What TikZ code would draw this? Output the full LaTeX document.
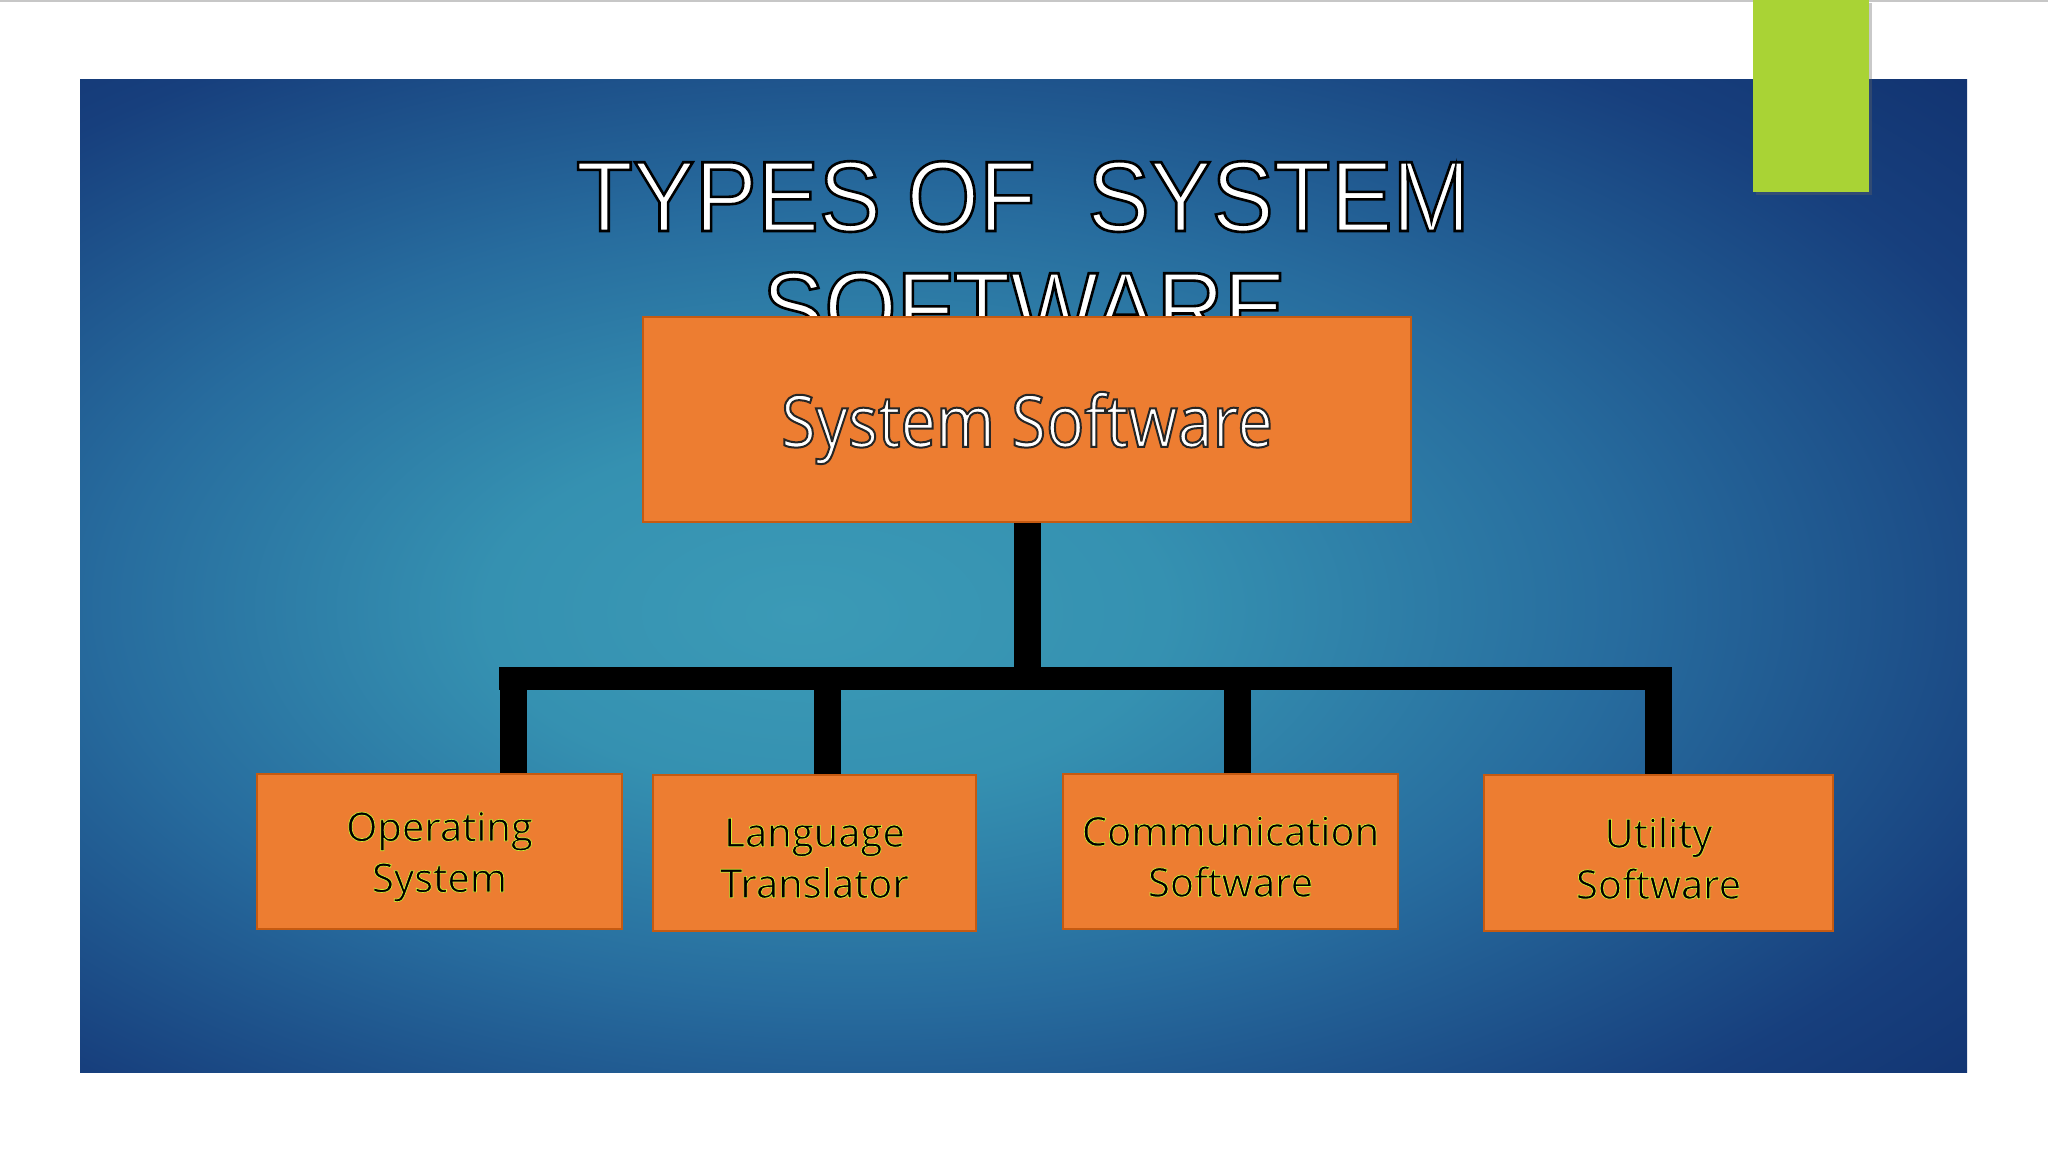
\documentclass[tikz,border=0pt]{standalone}
\usepackage{fontspec}
\newfontfamily\titlefont[FakeStretch=0.93]{Liberation Sans}
\newfontfamily\boxfont{Open Sans}
\newfontfamily\bigboxfont[FakeStretch=0.88]{Open Sans}
\definecolor{orfill}{HTML}{ED7D31}
\definecolor{orline}{HTML}{C55A11}
\definecolor{lime}{HTML}{A9D335}
\definecolor{bgc}{HTML}{3B9AB6}
\definecolor{bgc2}{HTML}{3591B1}
\definecolor{bgm}{HTML}{276C9E}
\definecolor{bgd}{HTML}{173F7D}
\definecolor{bge}{HTML}{0D2966}
\pgfdeclareradialshading{slidebg}{\pgfpoint{-6bp}{-2bp}}{color(0bp)=(bgc); color(9bp)=(bgc2); color(20bp)=(bgm); color(32bp)=(bgd); color(44bp)=(bge); color(72bp)=(bge)}
% fill colour, stroke rgb, stroke width (bp), text
\newcommand{\outlined}[4]{{\color{#1}\special{pdf:literal direct 2 Tr #3 w #2 RG}#4\special{pdf:literal direct 0 Tr}}}
\newcommand{\titletxt}[1]{\outlined{white}{0 0 0}{1.3}{#1}}
\newcommand{\maintxt}[1]{\outlined{white}{0.15 0.15 0.15}{1.0}{#1}}
\newcommand{\kidtxt}[1]{\outlined{black}{0.8 0.92 0.2}{0.35}{#1}}
\begin{document}
\begin{tikzpicture}[x=0.5pt,y=-0.5pt,
  orbox/.style={draw=orline, line width=1pt, fill=orfill, inner sep=0pt},
  kidlabel/.style={font=\boxfont\fontsize{20}{25.5}\selectfont, align=center, inner sep=0pt},
  vline/.style={line width=13.5pt, black},
  hline/.style={line width=11.5pt, black}]
\useasboundingbox (0,0) rectangle (2048,1152);
\fill[white] (0,0) rectangle (2048,1152);
\draw[black!22, line width=1pt] (0,1) -- (2048,1);
% slide
\shade[shading=slidebg] (80,79) rectangle (1967,1072);
% green tab
\fill[black!60, opacity=0.35] (1756,3) rectangle (1872,195);
\fill[lime] (1753,0) rectangle (1869,192);
% title
\node[font=\titlefont\fontsize{50}{55}\selectfont, anchor=base] (title1) at (1023,231) {\titletxt{TYPES OF\ \ SYSTEM}};
\node[font=\titlefont\fontsize{50}{55}\selectfont, anchor=base] (title2) at (1024,342) {\titletxt{SOFTWARE}};
% boxes
\node[orbox, minimum width=384pt, minimum height=102.5pt] (main) at (1027,419.5) {};
\node[font=\bigboxfont\fontsize{36}{40}\selectfont] (maintext) at (1027,428) {\maintxt{System Software}};
\node[orbox, minimum width=182.5pt, minimum height=77.5pt] (c1) at (439.5,851.5) {};
\node[orbox, minimum width=161.5pt, minimum height=78pt] (c2) at (814.5,853) {};
\node[orbox, minimum width=167.5pt, minimum height=77.5pt] (c3) at (1230.5,851.5) {};
\node[orbox, minimum width=174.5pt, minimum height=78pt] (c4) at (1658.5,853) {};
\node[kidlabel, yshift=-2.6pt] (c1t) at (c1) {\kidtxt{Operating}\\\kidtxt{System}};
\node[kidlabel, yshift=-2.6pt] (c2t) at (c2) {\kidtxt{Language}\\\kidtxt{Translator}};
\node[kidlabel, yshift=-2.6pt] (c3t) at (c3) {\kidtxt{Communication}\\\kidtxt{Software}};
\node[kidlabel, yshift=-2.6pt] (c4t) at (c4) {\kidtxt{Utility}\\\kidtxt{Software}};
% connectors
\coordinate (bl) at (499,678);
\coordinate (br) at (1672,678);
\coordinate (bt) at (1027,667);
\coordinate (t1) at (513,667);
\coordinate (t2) at (827,667);
\coordinate (t3) at (1237,667);
\coordinate (t4) at (1658,667);
\draw[hline] (bl) -- (br);
\draw[vline] (main.south) -- (bt);
\draw[vline] (t1) -- (t1 |- c1.north);
\draw[vline] (t2) -- (t2 |- c2.north);
\draw[vline] (t3) -- (t3 |- c3.north);
\draw[vline] (t4) -- (t4 |- c4.north);
\end{tikzpicture}
\end{document}
